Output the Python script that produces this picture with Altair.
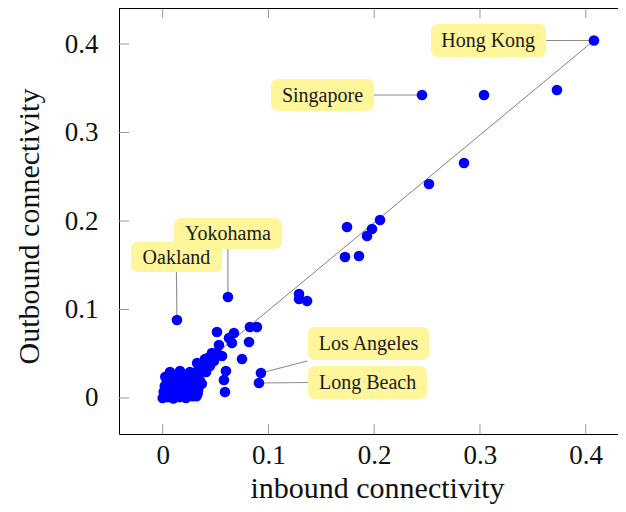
import altair as alt
import pandas as pd

# ---- data: inbound / outbound connectivity of ports ----
inbound = [
    0.4078, 0.2452, 0.3038, 0.3728, 0.2849, 0.2518, 0.2055, 0.1743, 0.1979, 0.1932,
    0.1724, 0.1856, 0.1289, 0.1289, 0.1365, 0.0617, 0.0135, 0.0825, 0.0891, 0.0513,
    0.0674, 0.0816, 0.0627, 0.0655, 0.0532, 0.0513, 0.0561, 0.0750, 0.0598, 0.0579,
    0.0589, 0.0929, 0.0910,
    0.0000, 0.0050, 0.0100, 0.0160, 0.0220, 0.0280,
    0.0010, 0.0070, 0.0145, 0.0220, 0.0300, 0.0330,
    0.0020, 0.0090, 0.0170, 0.0240, 0.0310,
    0.0070, 0.0145, 0.0220, 0.0290, 0.0350,
    0.0069, 0.0164,
    0.0239, 0.0296, 0.0343, 0.0390, 0.0428, 0.0466, 0.0410, 0.0447, 0.0485,
    0.0258, 0.0326, 0.0400, 0.0476,
    0.0030, 0.0080, 0.0125, 0.0185, 0.0255, 0.0320,
    0.0040, 0.0110, 0.0195, 0.0265, 0.0335,
    0.0050, 0.0120, 0.0260, 0.0320, 0.0370,
    0.0190, 0.0270, 0.0310, 0.0365, 0.0420, 0.0455,
    0.0025, 0.0105, 0.0180, 0.0040,
]
outbound = [
    0.4040, 0.3424, 0.3424, 0.3480, 0.2655, 0.2418, 0.2011, 0.1932, 0.1910, 0.1830,
    0.1593, 0.1605, 0.1175, 0.1119, 0.1096, 0.1141, 0.0881, 0.0802, 0.0802, 0.0746,
    0.0734, 0.0633, 0.0678, 0.0621, 0.0599, 0.0508, 0.0475, 0.0441, 0.0305, 0.0203,
    0.0068, 0.0282, 0.0169,
    0.0000, 0.0010, -0.0005, 0.0010, 0.0000, 0.0020,
    0.0070, 0.0060, 0.0080, 0.0060, 0.0070, 0.0050,
    0.0136, 0.0140, 0.0120, 0.0150, 0.0130,
    0.0200, 0.0210, 0.0190, 0.0210, 0.0200,
    0.0294, 0.0305,
    0.0226, 0.0282, 0.0339, 0.0395, 0.0452, 0.0508, 0.0294, 0.0362, 0.0418,
    0.0294, 0.0395, 0.0440, 0.0497,
    0.0030, 0.0025, 0.0035, 0.0040, 0.0030, 0.0020,
    0.0100, 0.0105, 0.0095, 0.0100, 0.0090,
    0.0170, 0.0175, 0.0175, 0.0165, 0.0160,
    0.0250, 0.0255, 0.0250, 0.0300, 0.0350, 0.0405,
    0.0240, 0.0245, 0.0250, 0.0200,
]

# ---- annotations ----
label_names = ["Hong Kong", "Singapore", "Yokohama", "Oakland", "Los Angeles", "Long Beach"]
label_x = [0.3077, 0.1511, 0.0617, 0.0130, 0.1946, 0.1937]
label_y = [0.4045, 0.3424, 0.1859, 0.1593, 0.0616, 0.0175]
box_x1 = [0.2537, 0.1024, 0.0107, -0.0300, 0.1374, 0.1374]
box_x2 = [0.3625, 0.1998, 0.1128, 0.0561, 0.2518, 0.2499]
box_y1 = [0.3853, 0.3243, 0.1684, 0.1424, 0.0429, -0.0011]
box_y2 = [0.4226, 0.3605, 0.2034, 0.1763, 0.0802, 0.0362]
port_x = [0.4078, 0.2452, 0.0617, 0.0135, 0.0929, 0.0910]
port_y = [0.4040, 0.3424, 0.1141, 0.0881, 0.0282, 0.0169]
pin_x = [0.3625, 0.1998, 0.0617, 0.0130, 0.1365, 0.1374]
pin_y = [0.4040, 0.3424, 0.1684, 0.1424, 0.0418, 0.0175]

diag_x = [0.0, 0.4078]
diag_y = [0.0, 0.4040]

tick_values = [0.0, 0.1, 0.2, 0.3, 0.4]

W, H = 499, 426
FONT = "Liberation Serif"

xs = alt.Scale(domain=[-0.0413, 0.4305], nice=False, zero=False)
ys = alt.Scale(domain=[-0.0407, 0.4407], nice=False, zero=False)

pts = pd.DataFrame({"inbound": inbound, "outbound": outbound})
lab = pd.DataFrame({
    "name": label_names, "lx": label_x, "ly": label_y,
    "bx1": box_x1, "bx2": box_x2, "by1": box_y1, "by2": box_y2,
    "px": port_x, "py": port_y, "qx": pin_x, "qy": pin_y,
})
diag = pd.DataFrame({"x": [diag_x[0]], "y": [diag_y[0]], "x2": [diag_x[1]], "y2": [diag_y[1]]})
ticks = pd.DataFrame({"v": tick_values})

x_axis = alt.Axis(
    values=tick_values, format=".1~f", ticks=False, grid=False,
    domain=True, domainColor="#000", domainWidth=1,
    labelFont=FONT, labelFontSize=27, labelColor="#111", labelPadding=8,
    title="inbound connectivity", titleFont=FONT, titleFontSize=30,
    titleFontWeight="normal", titleColor="#111",
    titleX=258, titleY=63, titleAlign="center", titleBaseline="alphabetic",
)
y_axis = alt.Axis(
    values=tick_values, format=".1~f", ticks=False, grid=False,
    domain=True, domainColor="#000", domainWidth=1,
    labelFont=FONT, labelFontSize=27, labelColor="#111", labelPadding=21,
    title="Outbound connectivity", titleFont=FONT, titleFontSize=30,
    titleFontWeight="normal", titleColor="#111",
    titleX=-81, titleY=218, titleAngle=270, titleAlign="center",
    titleBaseline="alphabetic",
)


def X(field):
    return alt.X(field, scale=xs, axis=x_axis)


def Y(field):
    return alt.Y(field, scale=ys, axis=y_axis)


diag_layer = alt.Chart(diag).mark_rule(color="#808080", strokeWidth=1).encode(
    x=X("x:Q"), y=Y("y:Q"), x2="x2:Q", y2="y2:Q",
)

connectors = alt.Chart(lab).mark_rule(color="#8c8c8c", strokeWidth=1.1).encode(
    x=X("px:Q"), y=Y("py:Q"), x2="qx:Q", y2="qy:Q",
)

points = alt.Chart(pts).mark_circle(color="#0000ff", opacity=1, size=113).encode(
    x=X("inbound:Q"), y=Y("outbound:Q"),
)

boxes = alt.Chart(lab).mark_rect(color="#fff59a", cornerRadius=7).encode(
    x=X("bx1:Q"), x2="bx2:Q", y=Y("by1:Q"), y2="by2:Q",
)

texts = alt.Chart(lab).mark_text(
    font=FONT, fontSize=20, color="#1a1a1a", align="center", baseline="middle", dy=1
).encode(
    x=X("lx:Q"), y=Y("ly:Q"), text="name:N",
)

tick_col = "#9a9a9a"
bottom_ticks = alt.Chart(ticks).mark_rule(color=tick_col, strokeWidth=1).encode(
    x=X("v:Q"), y=alt.value(H - 10), y2=alt.value(H),
)
top_ticks = alt.Chart(ticks).mark_rule(color=tick_col, strokeWidth=1).encode(
    x=X("v:Q"), y=alt.value(0), y2=alt.value(10),
)
left_ticks = alt.Chart(ticks).mark_rule(color=tick_col, strokeWidth=1).encode(
    y=Y("v:Q"), x=alt.value(0), x2=alt.value(10),
)
top_frame = alt.Chart(ticks).mark_rule(color="#000", strokeWidth=1).encode(
    x=alt.value(0), x2=alt.value(W), y=alt.value(0.5),
)

chart = alt.layer(
    diag_layer, connectors, points, boxes, texts,
    bottom_ticks, top_ticks, left_ticks, top_frame,
).properties(
    width=W, height=H,
    autosize=alt.AutoSizeParams(type="none"),
    padding={"left": 111, "top": 0, "right": 0, "bottom": 70},
).configure_view(strokeWidth=0)

chart.save("out.html", embed_options={"renderer": "svg", "actions": False})
